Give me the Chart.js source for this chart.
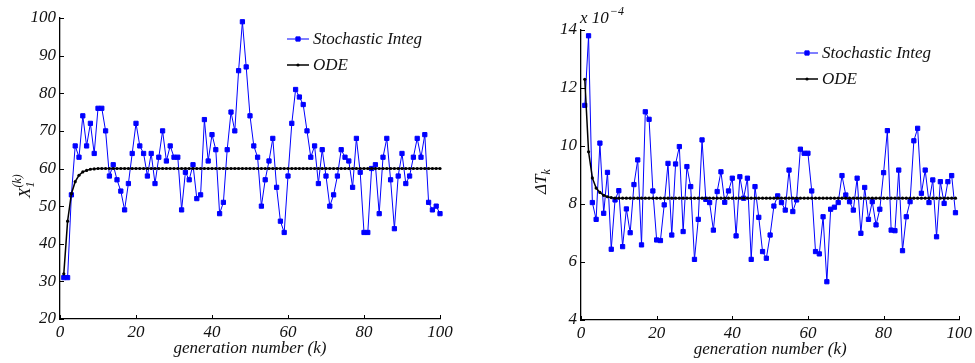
<!DOCTYPE html>
<html>
<head>
<meta charset="utf-8">
<script src="https://cdn.jsdelivr.net/npm/chart.js@4/dist/chart.umd.min.js"></script>
<style>
	html, body { margin: 0; padding: 0; background: #fff; }
	#wrap { position: relative; width: 975px; height: 363px; }
	canvas { position: absolute; top: 0; }
	#left { left: 0; }
	#right { left: 487px; }
</style>
</head>
<body>
<div id="wrap">
	<canvas id="left" width="487" height="363"></canvas>
	<canvas id="right" width="488" height="363"></canvas>
</div>
<script>
// generation number k
const generations = [
	1, 2, 3, 4, 5, 6, 7, 8, 9, 10, 11, 12, 13, 14, 15, 16, 17, 18, 19, 20,
	21, 22, 23, 24, 25, 26, 27, 28, 29, 30, 31, 32, 33, 34, 35, 36, 37, 38, 39, 40,
	41, 42, 43, 44, 45, 46, 47, 48, 49, 50, 51, 52, 53, 54, 55, 56, 57, 58, 59, 60,
	61, 62, 63, 64, 65, 66, 67, 68, 69, 70, 71, 72, 73, 74, 75, 76, 77, 78, 79, 80,
	81, 82, 83, 84, 85, 86, 87, 88, 89, 90, 91, 92, 93, 94, 95, 96, 97, 98, 99, 100,
];

// left panel: X_1^(k)
const stochX = [
	31, 31, 53, 66, 63, 74, 66, 72, 64, 76, 76, 70, 58, 61, 57, 54, 49, 56, 64, 72,
	66, 64, 58, 64, 56, 63, 70, 62, 66, 63, 63, 49, 59, 57, 61, 52, 53, 73, 62, 69,
	65, 48, 51, 65, 75, 70, 86, 99, 87, 74, 66, 63, 50, 57, 62, 68, 55, 46, 43, 58,
	72, 81, 79, 77, 70, 63, 66, 56, 65, 58, 50, 53, 58, 65, 63, 62, 55, 68, 59, 43,
	43, 60, 61, 48, 63, 68, 57, 44, 58, 64, 56, 58, 63, 68, 63, 69, 51, 49, 50, 48,
];
const odeX = [
	32, 46, 53.3, 56.5, 58.2, 59.1, 59.5, 59.8, 59.9, 60, 60, 60, 60, 60, 60, 60, 60, 60, 60, 60,
	60, 60, 60, 60, 60, 60, 60, 60, 60, 60, 60, 60, 60, 60, 60, 60, 60, 60, 60, 60,
	60, 60, 60, 60, 60, 60, 60, 60, 60, 60, 60, 60, 60, 60, 60, 60, 60, 60, 60, 60,
	60, 60, 60, 60, 60, 60, 60, 60, 60, 60, 60, 60, 60, 60, 60, 60, 60, 60, 60, 60,
	60, 60, 60, 60, 60, 60, 60, 60, 60, 60, 60, 60, 60, 60, 60, 60, 60, 60, 60, 60,
];

// right panel: Delta T_k (x 10^-4), k = 1..99
const stochDT = [
	11.4, 13.8, 8.05, 7.47, 10.1, 7.68, 9.09, 6.44, 8.14, 8.46, 6.53, 7.83, 7.01, 8.67, 9.52, 6.59, 11.18, 10.92, 8.45, 6.76,
	6.74, 7.97, 9.40, 6.93, 9.38, 9.98, 7.05, 9.29, 8.60, 6.09, 7.47, 10.21, 8.16, 8.05, 7.10, 8.43, 9.11, 8.06, 8.45, 8.89,
	6.90, 8.94, 8.20, 8.89, 6.09, 8.60, 7.54, 6.36, 6.13, 6.93, 7.93, 8.28, 8.05, 7.79, 9.17, 7.74, 8.14, 9.89, 9.75, 9.75,
	8.45, 6.36, 6.28, 7.56, 5.32, 7.82, 7.89, 8.05, 8.98, 8.31, 8.08, 7.79, 8.89, 6.99, 8.57, 7.47, 8.08, 7.28, 7.82, 9.08,
	10.53, 7.10, 7.08, 9.17, 6.39, 7.56, 8.08, 10.18, 10.61, 8.37, 9.17, 8.05, 8.83, 6.87, 8.77, 8.02, 8.77, 8.98, 7.70,
];
const odeDT = [
	12.3, 9.8, 8.9, 8.55, 8.4, 8.3, 8.25, 8.22, 8.2, 8.2, 8.2, 8.2, 8.2, 8.2, 8.2, 8.2, 8.2, 8.2, 8.2, 8.2,
	8.2, 8.2, 8.2, 8.2, 8.2, 8.2, 8.2, 8.2, 8.2, 8.2, 8.2, 8.2, 8.2, 8.2, 8.2, 8.2, 8.2, 8.2, 8.2, 8.2,
	8.2, 8.2, 8.2, 8.2, 8.2, 8.2, 8.2, 8.2, 8.2, 8.2, 8.2, 8.2, 8.2, 8.2, 8.2, 8.2, 8.2, 8.2, 8.2, 8.2,
	8.2, 8.2, 8.2, 8.2, 8.2, 8.2, 8.2, 8.2, 8.2, 8.2, 8.2, 8.2, 8.2, 8.2, 8.2, 8.2, 8.2, 8.2, 8.2, 8.2,
	8.2, 8.2, 8.2, 8.2, 8.2, 8.2, 8.2, 8.2, 8.2, 8.2, 8.2, 8.2, 8.2, 8.2, 8.2, 8.2, 8.2, 8.2, 8.2,
];

const genTicks = [0, 20, 40, 60, 80, 100];
const xTicksLeft = [20, 30, 40, 50, 60, 70, 80, 90, 100];
const dtTicksRight = [4, 6, 8, 10, 12, 14];

const seriesLabels = ['Stochastic Integ', 'ODE'];

const FONT = '"Liberation Serif", "Times New Roman", serif';
const INK = '#111';

function toPoints(values) {
	return values.map((v, i) => ({ x: generations[i], y: v }));
}

function drawPart(ctx, text, size, x, y) {
	ctx.font = `italic ${size}px ${FONT}`;
	ctx.fillText(text, x, y);
	return ctx.measureText(text).width;
}

// matlab-ish axes: inward ticks, legend in the corner, italic titles
const matlabLook = {
	id: 'matlabLook',
	afterDraw(chart, args, o) {
		const { ctx, chartArea: a } = chart;
		const xs = chart.scales.x;
		const ys = chart.scales.y;
		ctx.save();

		ctx.strokeStyle = '#000';
		ctx.lineWidth = 1;
		ctx.beginPath();
		xs.ticks.forEach((t) => {
			const px = Math.round(xs.getPixelForValue(t.value)) + 0.5;
			ctx.moveTo(px, a.bottom);
			ctx.lineTo(px, a.bottom - 4);
		});
		ys.ticks.forEach((t) => {
			const py = Math.round(ys.getPixelForValue(t.value)) + 0.5;
			ctx.moveTo(a.left, py);
			ctx.lineTo(a.left + 4, py);
		});
		ctx.stroke();

		ctx.fillStyle = INK;
		ctx.font = `italic 17px ${FONT}`;
		ctx.textAlign = 'center';
		ctx.textBaseline = 'middle';
		ctx.fillText('generation number (k)', (a.left + a.right) / 2, a.bottom + 30);

		// legend
		chart.data.datasets.forEach((ds, i) => {
			const y = o.legendY + i * 26;
			ctx.strokeStyle = ds.borderColor;
			ctx.lineWidth = ds.borderWidth;
			ctx.beginPath();
			ctx.moveTo(o.legendX, y);
			ctx.lineTo(o.legendX + 22, y);
			ctx.stroke();
			ctx.fillStyle = ds.pointBackgroundColor;
			ctx.strokeStyle = ds.pointBorderColor;
			Chart.helpers.drawPoint(ctx, {
				pointStyle: ds.pointStyle,
				radius: ds.pointRadius,
				rotation: 0,
				borderWidth: ds.pointBorderWidth,
			}, o.legendX + 11, y);
			ctx.fillStyle = INK;
			ctx.font = `italic 17px ${FONT}`;
			ctx.textAlign = 'left';
			ctx.textBaseline = 'middle';
			ctx.fillText(ds.label, o.legendX + 26, y + 1);
		});

		// y title
		ctx.fillStyle = INK;
		ctx.textAlign = 'left';
		ctx.textBaseline = 'alphabetic';
		ctx.save();
		ctx.translate(o.yTitleX, o.yTitleY);
		ctx.rotate(-Math.PI / 2);
		if (o.yTitle === 'X1') {
			const w = drawPart(ctx, 'X', 17, -12, 6);
			drawPart(ctx, '1', 12, -12 + w, 10);
			drawPart(ctx, '(k)', 12, -12 + w, -3);
		} else {
			const w = drawPart(ctx, 'ΔT', 17, -14, 6);
			drawPart(ctx, 'k', 12, -14 + w, 10);
		}
		ctx.restore();

		if (o.multiplier) {
			const w = drawPart(ctx, 'x 10', 17, a.left - 1, a.top - 7);
			drawPart(ctx, '−4', 12, a.left - 1 + w + 1, a.top - 15);
		}

		ctx.restore();
	},
};

function makePanel(canvasId, cfg) {
	return new Chart(document.getElementById(canvasId).getContext('2d'), {
		type: 'line',
		data: {
			datasets: [
				{
					label: seriesLabels[0],
					data: toPoints(cfg.stoch),
					borderColor: '#0000ff',
					borderWidth: 1,
					pointStyle: 'rect',
					pointRadius: 3,
					pointBorderWidth: 1,
					pointBackgroundColor: '#0000ff',
					pointBorderColor: '#0000ff',
					clip: false,
					order: 1,
				},
				{
					label: seriesLabels[1],
					data: toPoints(cfg.ode),
					borderColor: '#000',
					borderWidth: 1.5,
					pointStyle: 'circle',
					pointRadius: 1.6,
					pointBorderWidth: 0,
					pointBackgroundColor: '#000',
					pointBorderColor: '#000',
					clip: false,
					order: 0,
				},
			],
		},
		options: {
			responsive: false,
			animation: false,
			events: [],
			layout: { padding: cfg.padding },
			plugins: {
				legend: { display: false },
				tooltip: { enabled: false },
				matlabLook: cfg.look,
			},
			scales: {
				x: {
					type: 'linear',
					min: 0,
					max: 100,
					afterBuildTicks: (s) => { s.ticks = genTicks.map((v) => ({ value: v })); },
					afterFit: (s) => { s.height = cfg.xHeight; },
					grid: { display: false, drawTicks: false },
					border: { display: true, color: '#000', width: 1.3 },
					ticks: { color: INK, padding: 3, maxRotation: 0, font: { family: FONT, size: 17, style: 'italic' } },
				},
				y: {
					type: 'linear',
					min: cfg.yTicks[0],
					max: cfg.yTicks[cfg.yTicks.length - 1],
					afterBuildTicks: (s) => { s.ticks = cfg.yTicks.map((v) => ({ value: v })); },
					afterFit: (s) => { s.width = cfg.yWidth; },
					grid: { display: false, drawTicks: false },
					border: { display: true, color: '#000', width: 1.3 },
					ticks: { color: INK, padding: 4, font: { family: FONT, size: 17, style: 'italic' } },
				},
			},
		},
		plugins: [matlabLook],
	});
}

makePanel('left', {
	stoch: stochX,
	ode: odeX,
	yTicks: xTicksLeft,
	yWidth: 60,
	xHeight: 44,
	padding: { left: 0, right: 47, top: 18, bottom: 0 },
	look: { legendX: 287, legendY: 39, yTitle: 'X1', yTitleX: 24, yTitleY: 186, multiplier: false },
});

makePanel('right', {
	stoch: stochDT,
	ode: odeDT,
	yTicks: dtTicksRight,
	yWidth: 94,
	xHeight: 43,
	padding: { left: 0, right: 14, top: 30, bottom: 0 },
	look: { legendX: 309, legendY: 53, yTitle: 'dT', yTitleX: 53, yTitleY: 180, multiplier: true },
});
</script>
</body>
</html>
